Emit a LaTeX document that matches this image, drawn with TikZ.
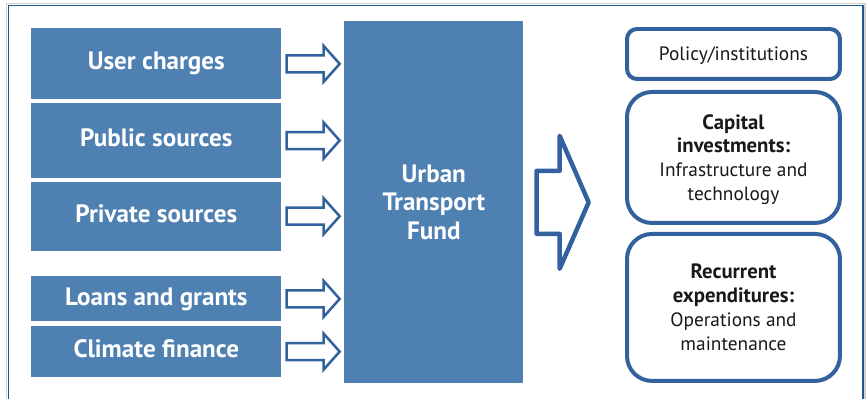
\documentclass[tikz,border=0pt]{standalone}
\usepackage{fontspec}
\setmainfont{PT Sans}
\usetikzlibrary{positioning}
\definecolor{fundblue}{RGB}{79,128,178}
\definecolor{edgeblue}{RGB}{50,97,158}
\definecolor{frameblue}{RGB}{30,86,140}
\newcommand\hd[1]{{\fontsize{11.8}{13.6}\selectfont\bfseries #1}}
\tikzset{
    source/.style={fill=fundblue, text=white, inner sep=0, minimum width=5cm,
        text height=0.7em, text depth=0pt,
        font=\fontsize{14.3}{16}\selectfont\bfseries},
    outcome/.style={draw=edgeblue, line width=0.08cm, fill=white, inner sep=0,
        minimum width=4.26cm, align=center, text=black!90, text depth=0pt,
        font=\fontsize{11}{13.6}\selectfont},
    hollow/.style={draw=edgeblue, fill=white, line width=0.05cm},
}

\begin{document}
\begin{tikzpicture}[x=0.02cm, y=-0.02cm]
    \useasboundingbox (0,0) rectangle (866,399);

    % frame
    \draw[gray!35, line width=0.04cm] (6.5,410) -- (6.5,3.5) -- (865,3.5) -- (865,410);
    \draw[frameblue, line width=0.03cm] (8.5,410) -- (8.5,5.5) -- (863,5.5) -- (863,410);

    % sources
    \node[source, anchor=north west, minimum height=1.42cm] (uc) at (31,28) {User charges};
    \node[source, below=0.06cm of uc, minimum height=1.5cm] (ps) {Public sources};
    \node[source, below=0.06cm of ps, minimum height=1.38cm] (pv) {Private sources};
    \node[source, below=0.5cm of pv, minimum height=0.9cm] (lg) {Loans and grants};
    \node[source, below=0.08cm of lg, minimum height=1.02cm] (cf) {Climate finance};

    % fund
    \node[source, anchor=north west, minimum width=3.58cm, minimum height=7.24cm,
        text height=, text depth=, align=center,
        font=\fontsize{14.3}{16.2}\selectfont\bfseries] (fund) at (344,21)
        {Urban\\Transport\\Fund};

    % uses
    \node[outcome, anchor=north west, minimum height=1cm, rounded corners=0.2cm] (pol) at (625,27)
        {Policy/institutions};
    \node[outcome, below=0.18cm of pol, minimum height=2.62cm, rounded corners=0.5cm] (cap)
        {\hd{Capital}\\\hd{investments:}\\Infrastructure and\\technology};
    \node[outcome, below=0.14cm of cap, minimum height=2.94cm, rounded corners=0.5cm] (rec)
        {\hd{Recurrent}\\\hd{expenditures:}\\Operations and\\maintenance};

    % arrows into the fund
    \foreach \n in {uc,ps,pv,lg,cf}
    {
        \draw[hollow] ([shift={(5,-8.5)}]\n.east) -- ++(37,0) -- ++(0,-9.5) -- ++(16,18)
            -- ++(-16,18) -- ++(0,-9.5) -- ++(-37,0) -- cycle;
    }

    % arrow out of the fund
    \draw[hollow, line width=0.09cm, line join=round] ([shift={(13,-31.5)}]fund.east)
        -- ++(23,0) -- ++(0,-35) -- ++(29,66.5) -- ++(-29,66.5) -- ++(0,-35) -- ++(-23,0) -- cycle;

\end{tikzpicture}
\end{document}
